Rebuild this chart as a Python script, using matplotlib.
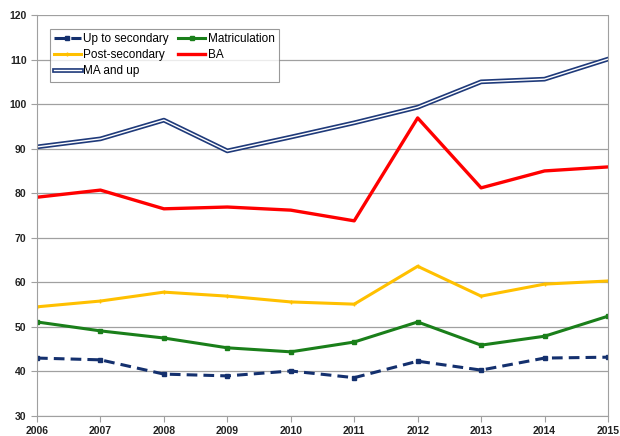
import matplotlib
matplotlib.use("Agg")
import matplotlib.pyplot as plt
import matplotlib.patheffects as pe

plt.rcParams['font.family'] = ['Liberation Sans', 'DejaVu Sans']

years = [2006, 2007, 2008, 2009, 2010, 2011, 2012, 2013, 2014, 2015]
up_to_secondary = [43.0, 42.6, 39.4, 39.0, 40.1, 38.6, 42.3, 40.3, 43.0, 43.2]
matriculation = [51.1, 49.1, 47.5, 45.3, 44.4, 46.6, 51.1, 45.9, 47.9, 52.4]
post_secondary = [54.5, 55.8, 57.8, 56.9, 55.6, 55.1, 63.6, 56.9, 59.6, 60.3]
ba = [79.1, 80.7, 76.5, 76.9, 76.2, 73.8, 96.9, 81.2, 85.0, 85.9]
ma_and_up = [90.4, 92.2, 96.4, 89.5, 92.6, 95.8, 99.3, 105.0, 105.6, 110.1]

fig = plt.figure(figsize=(6.2, 4.36), dpi=100)
ax = fig.add_axes([0.0597, 0.0459, 0.9209, 0.9197])

navy = '#1f3a7a'
h_up, = ax.plot(years, up_to_secondary, color='#14306e', lw=2.2, ls=(0, (3.5, 2)),
                marker='s', ms=3.5, label='Up to secondary')
h_mat, = ax.plot(years, matriculation, color='#1a7f1a', lw=2.2,
                 marker='s', ms=3.5, label='Matriculation')
h_post, = ax.plot(years, post_secondary, color='#ffc000', lw=2.2,
                  marker='+', ms=3, label='Post-secondary')
h_ba, = ax.plot(years, ba, color='#ff0000', lw=2.4, label='BA')
h_ma, = ax.plot(years, ma_and_up, color='white', lw=1.0, label='MA and up',
                path_effects=[pe.Stroke(linewidth=3.4, foreground=navy), pe.Normal()])

ax.set_xlim(2006, 2015)
ax.set_ylim(30, 120)
ax.set_xticks(years)
ax.set_yticks(range(30, 121, 10))
ax.grid(axis='y', color='#a0a0a0', lw=0.9)
ax.set_axisbelow(True)
for s in ['left', 'bottom', 'right']:
    ax.spines[s].set_color('#a0a0a0')
ax.spines['top'].set_visible(False)
ax.tick_params(axis='both', colors='#a0a0a0', length=4, labelsize=7.5,
               labelcolor='#222222')
for lab in ax.get_xticklabels() + ax.get_yticklabels():
    lab.set_fontweight('bold')

leg = ax.legend([h_up, h_post, h_ma, h_mat, h_ba],
                ['Up to secondary', 'Post-secondary', 'MA and up', 'Matriculation', 'BA'],
                ncol=2, loc='upper left', bbox_to_anchor=(0.022, 0.965),
                fontsize=8.5, frameon=True, fancybox=False, edgecolor='#808080',
                handlelength=2.3, handletextpad=0.2, columnspacing=0.8,
                labelspacing=0.35, borderpad=0.35, borderaxespad=0)
leg.get_frame().set_linewidth(0.8)

fig.savefig('out.png', dpi=100)
